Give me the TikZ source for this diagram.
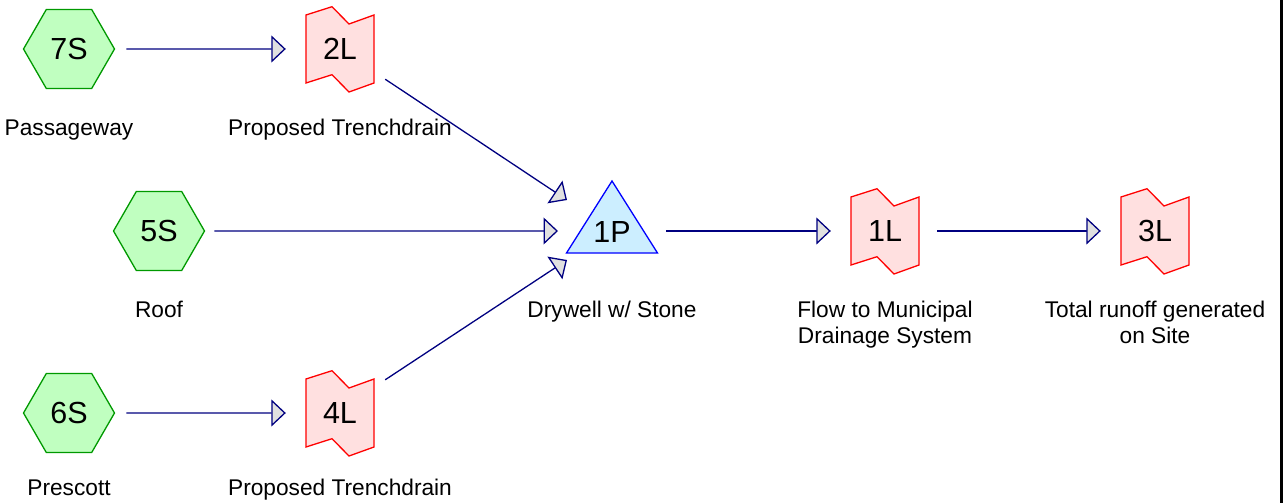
\documentclass[tikz,border=0pt]{standalone}
\usepackage{fontspec}
\setmainfont{Liberation Sans}
\usetikzlibrary{arrows.meta,shapes.geometric}
\definecolor{hexfill}{RGB}{192,255,192}
\definecolor{hexdraw}{RGB}{0,153,0}
\definecolor{lfill}{RGB}{255,224,224}
\definecolor{ldraw}{RGB}{255,0,0}
\definecolor{pfill}{RGB}{204,238,255}
\definecolor{pdraw}{RGB}{0,0,255}
\definecolor{flowc}{RGB}{0,0,128}
\definecolor{tipfill}{RGB}{224,224,224}
\newcommand\drawLshape[2]{%
  \draw[lshape] (#1-34,#2-34) -- (#1-8,#2-42.3) -- (#1+9,#2-25) -- (#1+34,#2-34)
    -- (#1+34,#2+34) -- (#1+9,#2+43) -- (#1-8,#2+25.7) -- (#1-34,#2+34) -- cycle;}
\begin{document}
\begin{tikzpicture}[x=1pt,y=-1pt,
  hexnode/.style={regular polygon, regular polygon sides=6, minimum size=91pt,
    inner sep=0pt, fill=hexfill, draw=hexdraw, line width=1.3pt,
    font=\fontsize{30.5}{36}\selectfont},
  lnode/.style={inner sep=0pt, minimum width=68pt, minimum height=68pt,
    font=\fontsize{30.5}{36}\selectfont},
  lshape/.style={fill=lfill, draw=ldraw, line width=1.3pt, line join=miter},
  pshape/.style={fill=pfill, draw=pdraw, line width=1.3pt, line join=miter},
  pnode/.style={inner sep=0pt, font=\fontsize{30.5}{36}\selectfont},
  lbl/.style={anchor=base, inner sep=0pt, align=center,
    font=\fontsize{22.7}{26}\selectfont},
  flow/.style={draw=flowc, line width=1.3pt,
    -{Triangle[length=14.5pt,width=27pt,fill=tipfill]}},
]
\useasboundingbox (0,0) rectangle (1283,503);
\fill[black] (1280,0) rectangle (1283,503);

% subcatchments
\node[hexnode] (7S) at (69,49) {7S};
\node[hexnode] (5S) at (159,231) {5S};
\node[hexnode] (6S) at (69,413) {6S};

% links
\drawLshape{340}{49}
\node[lnode] (2L) at (340,49) {2L};
\drawLshape{340}{413}
\node[lnode] (4L) at (340,413) {4L};
\drawLshape{885}{231}
\node[lnode] (1L) at (885,231) {1L};
\drawLshape{1155}{231}
\node[lnode] (3L) at (1155,231) {3L};

% pond
\draw[pshape] (612,181) -- (657.5,253) -- (566.5,253) -- cycle;
\node[pnode] (1P) at (612,232) {1P};

% labels
\node[lbl] (t7S) at (69,135) {Passageway};
\node[lbl] (t2L) at (340,135) {Proposed Trenchdrain};
\node[lbl] (t5S) at (159,317) {Roof};
\node[lbl] (t1P) at (612,317) {Drywell w/ Stone};
\node[lbl] (t1L) at (885,343) {Flow to Municipal\\Drainage System};
\node[lbl] (t3L) at (1155,343) {Total runoff generated\\on Site};
\node[lbl] (t6S) at (69,495) {Prescott};
\node[lbl] (t4L) at (340,495) {Proposed Trenchdrain};

% connectors
\draw[flow] ([xshift=11pt]7S.east) -- ([xshift=-20pt]2L.west);
\draw[flow] ([xshift=11pt]6S.east) -- ([xshift=-20pt]4L.west);
\draw[flow] ([xshift=11pt,yshift=4pt]2L.south east) -- ([xshift=-45pt,yshift=32pt]1P.center);
\draw[flow] ([xshift=9pt]5S.east) -- ([xshift=-54pt,yshift=1pt]1P.center);
\draw[flow] ([xshift=11pt,yshift=-1pt]4L.north east) -- ([xshift=-45pt,yshift=-28pt]1P.center);
\draw[flow] ([xshift=54pt,yshift=1pt]1P.center) -- ([xshift=-20pt]1L.west);
\draw[flow] ([xshift=18pt]1L.east) -- ([xshift=-20pt]3L.west);
\end{tikzpicture}
\end{document}
